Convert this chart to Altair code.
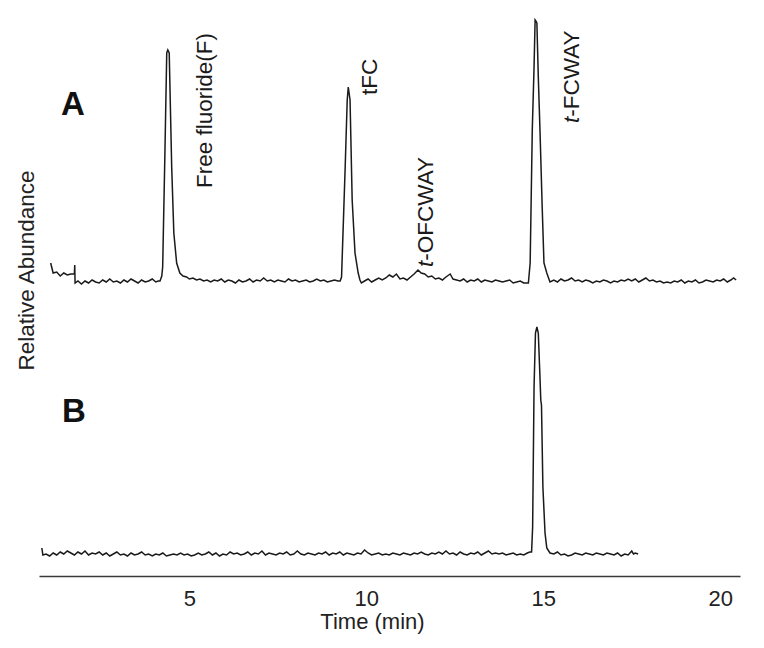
import altair as alt
import pandas as pd

# ---- Trace A (time in min, signal above its baseline) ----
trace_a = [
    (1.08, 19), (1.15, 9), (1.25, 10), (1.35, 6), (1.45, 9), (1.55, 7), (1.65, 8),
    (1.75, 8), (1.76, 17), (1.77, -1), (1.85, 1), (1.95, -2), (2.05, 1), (2.15, -1),
    (2.25, 2), (2.35, 0), (2.45, -1), (2.55, 2), (2.65, 0), (2.75, 3), (2.85, 0),
    (2.95, 1), (3.05, -1), (3.15, 2), (3.25, 0), (3.35, 3), (3.45, 1), (3.55, -1),
    (3.65, 2), (3.75, 0), (3.85, 1), (3.95, 3), (4.05, 0), (4.12, 1), (4.17, 1),
    (4.22, 6), (4.245, 15), (4.31, 132), (4.36, 229), (4.39, 232), (4.43, 229),
    (4.50, 115), (4.56, 49), (4.64, 19), (4.73, 9), (4.82, 6), (4.92, 5), (5.0, 3),
    (5.1, 4), (5.2, 2), (5.3, 3), (5.4, 1), (5.5, 2), (5.6, 0), (5.7, 2), (5.8, 1),
    (5.9, 3), (6.0, 0), (6.1, 2), (6.2, 1), (6.3, -1), (6.4, 2), (6.5, 0), (6.6, 1),
    (6.7, 3), (6.8, 0), (6.9, 2), (7.0, 1), (7.1, 4), (7.2, 1), (7.3, 2), (7.4, 0),
    (7.5, 2), (7.6, 1), (7.7, 0), (7.8, 3), (7.9, 1), (8.0, 2), (8.1, 0), (8.2, 1),
    (8.3, 2), (8.4, 0), (8.5, 1), (8.6, 3), (8.7, 1), (8.8, 2), (8.9, 0), (9.0, 1),
    (9.1, 2), (9.2, 1), (9.26, 1), (9.30, 5), (9.40, 112), (9.46, 182), (9.49, 195),
    (9.54, 182), (9.60, 82), (9.68, 29), (9.77, 9), (9.82, 2), (9.86, -1), (9.95, 1),
    (10.05, 3), (10.15, 0), (10.25, 2), (10.35, 4), (10.45, 2), (10.55, 4),
    (10.65, 7), (10.75, 5), (10.85, 8), (10.95, 3), (11.05, 4), (11.15, 2),
    (11.25, 5), (11.35, 8), (11.46, 12), (11.55, 9), (11.65, 8), (11.75, 5),
    (11.85, 6), (11.95, 3), (12.05, 4), (12.15, 2), (12.25, 5), (12.37, 8),
    (12.45, 3), (12.55, 2), (12.65, 1), (12.75, 3), (12.85, 0), (12.95, 2),
    (13.05, 1), (13.15, 3), (13.25, 0), (13.35, 2), (13.45, 1), (13.55, 0),
    (13.65, 2), (13.75, 1), (13.85, 0), (13.95, 1), (14.05, 2), (14.15, -1),
    (14.25, 0), (14.35, 1), (14.45, -1), (14.58, -1), (14.63, 19), (14.69, 152),
    (14.74, 215), (14.77, 262), (14.79, 261), (14.82, 259), (14.86, 205),
    (14.91, 149), (14.97, 75), (15.02, 19), (15.10, 9), (15.19, 0), (15.3, 2),
    (15.4, 0), (15.5, 3), (15.6, 1), (15.7, 2), (15.8, 4), (15.9, 1), (16.0, 2),
    (16.1, 0), (16.2, 2), (16.3, 1), (16.4, -1), (16.5, 1), (16.6, 0), (16.7, 2),
    (16.8, 1), (16.9, -1), (17.0, 1), (17.1, 0), (17.2, 2), (17.3, 1), (17.4, 3),
    (17.5, 1), (17.6, 3), (17.7, 0), (17.8, 2), (17.9, 4), (18.0, 1), (18.1, 2),
    (18.2, 0), (18.3, 1), (18.4, -1), (18.5, 0), (18.6, -1), (18.7, 1), (18.8, 0),
    (18.9, 2), (19.0, -1), (19.1, 1), (19.2, 0), (19.3, 2), (19.4, -1), (19.5, 0),
    (19.6, 2), (19.7, 1), (19.8, 0), (19.9, 2), (20.0, 1), (20.1, 3), (20.2, 0),
    (20.3, 2), (20.38, 4), (20.45, 2),
]

# ---- Trace B ----
trace_b = [
    (0.83, 7), (0.86, 0), (0.95, 1), (1.05, -1), (1.15, 2), (1.25, 0), (1.35, 3),
    (1.45, 1), (1.55, 4), (1.65, 2), (1.75, 0), (1.85, 3), (1.95, 1), (2.05, 4),
    (2.15, 0), (2.25, 2), (2.35, 1), (2.45, 3), (2.55, 0), (2.65, 2), (2.75, -1),
    (2.85, 1), (2.95, 3), (3.05, 0), (3.15, 1), (3.25, -1), (3.35, 2), (3.45, 0),
    (3.55, 1), (3.65, 3), (3.75, 0), (3.85, 1), (3.95, -1), (4.05, 1), (4.15, 0),
    (4.25, 2), (4.35, -1), (4.45, 0), (4.55, 1), (4.65, 0), (4.75, 2), (4.85, 0),
    (4.95, 1), (5.05, -1), (5.15, 0), (5.25, 2), (5.35, 0), (5.45, 1), (5.55, 3),
    (5.65, 0), (5.75, 2), (5.85, -1), (5.95, 1), (6.05, 0), (6.15, 3), (6.25, 1),
    (6.35, 2), (6.45, 0), (6.55, 1), (6.65, 3), (6.75, 0), (6.85, 2), (6.95, 1),
    (7.05, 4), (7.15, 0), (7.25, 2), (7.35, 1), (7.45, 0), (7.55, 2), (7.65, 1),
    (7.75, 3), (7.85, 0), (7.95, 1), (8.05, 4), (8.15, 1), (8.25, 0), (8.35, 2),
    (8.45, 1), (8.55, 0), (8.65, 2), (8.75, 1), (8.85, 3), (8.95, 0), (9.05, 2),
    (9.15, 1), (9.25, 3), (9.35, 0), (9.45, 2), (9.55, 1), (9.65, 0), (9.75, 2),
    (9.85, 1), (9.95, 5), (10.05, 2), (10.15, 0), (10.25, 1), (10.35, 2),
    (10.45, 0), (10.55, 1), (10.65, 0), (10.75, 2), (10.85, 1), (10.95, 0),
    (11.05, 2), (11.15, 1), (11.25, 0), (11.35, 2), (11.45, 1), (11.55, 3),
    (11.65, 1), (11.75, 0), (11.85, 2), (11.95, 1), (12.05, 3), (12.15, 1),
    (12.25, 4), (12.35, 1), (12.45, 2), (12.55, 0), (12.65, 3), (12.75, 1),
    (12.85, 0), (12.95, 2), (13.05, 1), (13.15, 3), (13.25, 0), (13.35, 2),
    (13.45, 4), (13.55, 1), (13.65, 2), (13.75, 1), (13.85, 2), (13.95, 0),
    (14.05, 1), (14.15, 2), (14.25, 0), (14.35, 1), (14.45, 0), (14.55, 2),
    (14.62, 3), (14.67, 3), (14.70, 28), (14.74, 168), (14.78, 222), (14.82, 228),
    (14.86, 222), (14.90, 185), (14.93, 155), (14.95, 150), (14.99, 68),
    (15.05, 22), (15.10, 7), (15.19, 2), (15.3, 1), (15.4, 3), (15.5, 0),
    (15.6, 1), (15.7, -1), (15.8, 0), (15.9, 2), (16.0, 1), (16.1, 0), (16.2, 2),
    (16.3, 1), (16.4, 0), (16.5, 2), (16.6, 1), (16.7, 0), (16.8, 2), (16.9, 1),
    (17.0, 0), (17.1, 2), (17.2, -1), (17.3, 1), (17.4, 0), (17.5, 4), (17.55, 1),
    (17.6, 2), (17.68, 1),
]

# baselines of the two stacked traces (in y-scale units)
trace_names = ["A", "B"]
trace_baselines = [294, 21]

# peak annotations
ann_plain_text = ["Free fluoride(F)", "tFC"]
ann_plain_time = [5.44, 10.10]
ann_plain_level = [388, 481]

ann_ital_rest = ["-OFCWAY", "-FCWAY"]
ann_ital_time = [11.69, 15.81]
ann_ital_level = [309, 453]

panel_letters = ["A", "B"]
panel_time = [1.71, 1.74]
panel_level = [461, 154]

x_ticks = [5, 10, 15, 20]

rows = []
for name, base, pts in zip(trace_names, trace_baselines, [trace_a, trace_b]):
    for t, s in pts:
        rows.append({"trace": name, "time": t, "y": base + s})
df = pd.DataFrame(rows)

df_plain = pd.DataFrame({"text": ann_plain_text, "time": ann_plain_time, "y": ann_plain_level})
df_ital = pd.DataFrame({"rest": ann_ital_rest, "t": ["t", "t"], "time": ann_ital_time, "y": ann_ital_level})
df_panel = pd.DataFrame({"text": panel_letters, "time": panel_time, "y": panel_level})

FONT = "Liberation Sans"
ANN_SIZE = 22.5

xscale = alt.Scale(domain=[0.75, 20.56], nice=False, zero=False)
yscale = alt.Scale(domain=[0, 566], nice=False, zero=False)

xaxis = alt.Axis(
    values=x_ticks, title="Time (min)", ticks=False, tickSize=0, grid=False,
    domain=True, domainColor="#3a3a3a", domainWidth=1.5,
    labelFont=FONT, labelFontSize=22, labelColor="#222222", labelPadding=12,
    labelFlush=False,
    titleFont=FONT, titleFontSize=22, titleFontWeight="normal", titleColor="#222222",
    titleX=333, titleY=52, titleAlign="center", titleBaseline="alphabetic",
)
yaxis = alt.Axis(
    title="Relative Abundance", labels=False, ticks=False, domain=False, grid=False,
    titleFont=FONT, titleFontSize=22.5, titleFontWeight="normal", titleColor="#222222",
    titleX=-6, titleY=260, titleAlign="center", titleBaseline="alphabetic", titleAngle=270,
)

lines = alt.Chart(df).mark_line(color="#1a1a1a", strokeWidth=1.5).encode(
    x=alt.X("time:Q", scale=xscale, axis=xaxis),
    y=alt.Y("y:Q", scale=yscale, axis=yaxis),
    detail="trace:N",
    order="time:Q",
)

plain = alt.Chart(df_plain).mark_text(
    angle=270, align="left", baseline="middle", font=FONT, fontSize=ANN_SIZE, color="#1a1a1a"
).encode(x=alt.X("time:Q", scale=xscale), y=alt.Y("y:Q", scale=yscale), text="text:N")

ital_t = alt.Chart(df_ital).mark_text(
    angle=270, align="left", baseline="middle", font=FONT, fontSize=ANN_SIZE,
    fontStyle="italic", color="#1a1a1a"
).encode(x=alt.X("time:Q", scale=xscale), y=alt.Y("y:Q", scale=yscale), text="t:N")

ital_rest = alt.Chart(df_ital).mark_text(
    angle=270, align="left", baseline="middle", font=FONT, fontSize=ANN_SIZE, dx=6.3,
    color="#1a1a1a"
).encode(x=alt.X("time:Q", scale=xscale), y=alt.Y("y:Q", scale=yscale), text="rest:N")

panels = alt.Chart(df_panel).mark_text(
    align="center", baseline="alphabetic", font=FONT, fontSize=33, fontWeight="bold",
    color="#111111"
).encode(x=alt.X("time:Q", scale=xscale), y=alt.Y("y:Q", scale=yscale), text="text:N")

chart = alt.layer(lines, plain, ital_t, ital_rest, panels).properties(
    width=701, height=566,
    padding={"left": 31, "top": 2, "right": 16, "bottom": 64},
    autosize=alt.AutoSizeParams(type="none"),
    background="white",
).configure_view(stroke=None)

chart.save("out.html", embed_options={"renderer": "svg", "actions": False})
